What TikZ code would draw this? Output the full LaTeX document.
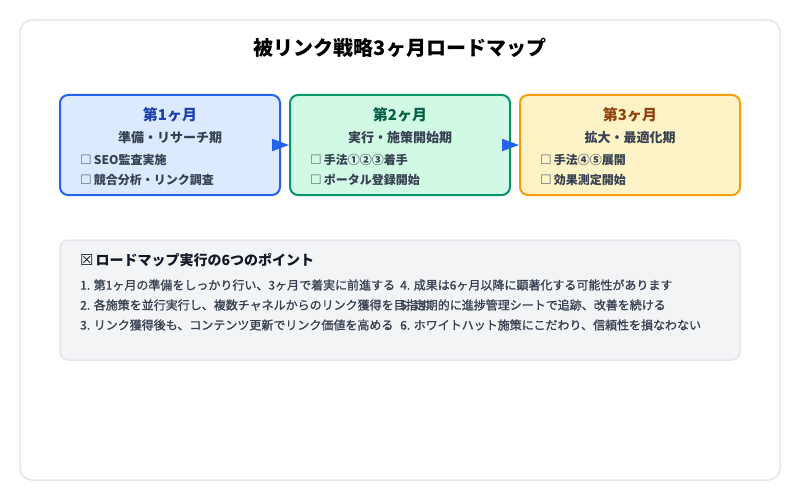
\documentclass[tikz,border=0pt]{standalone}
\usepackage{fontspec}
\setmainfont{Noto Sans CJK JP}
\newfontfamily\symfont{DejaVu Sans}
\newfontfamily\medfont[FakeBold=1.2]{Noto Sans CJK JP}
\usetikzlibrary{arrows.meta}
\definecolor{cardline}{HTML}{E5E7EB}
\definecolor{blueline}{HTML}{2563EB}
\definecolor{bluefill}{HTML}{DBEAFE}
\definecolor{bluetext}{HTML}{1E40AF}
\definecolor{greenline}{HTML}{059669}
\definecolor{greenfill}{HTML}{D1FAE5}
\definecolor{greentext}{HTML}{065F46}
\definecolor{amberline}{HTML}{F59E0B}
\definecolor{amberfill}{HTML}{FEF3C7}
\definecolor{ambertext}{HTML}{92400E}
\definecolor{bodytext}{HTML}{374151}
\definecolor{headtext}{HTML}{111827}
\definecolor{panelfill}{HTML}{F3F4F6}
\definecolor{boxmark}{HTML}{6B7280}
\tikzset{
  phase/.style={draw, line width=2pt, rounded corners=8pt, minimum width=220pt, minimum height=100pt, inner sep=0pt},
  phasetitle/.style={font=\fontsize{15}{18}\selectfont\bfseries, inner sep=0pt, anchor=center},
  phasesub/.style={font=\fontsize{13}{16}\selectfont\bfseries, text=bodytext, inner sep=0pt, anchor=center},
  item/.style={font=\fontsize{12}{14}\selectfont\bfseries, text=bodytext, inner sep=0pt, anchor=west},
  point/.style={font=\medfont\fontsize{12}{14}\selectfont, text=bodytext, inner sep=0pt, anchor=west},
  arr/.style={-{Triangle[length=17pt,width=12pt]}, blueline, line width=2pt},
}
\newcommand{\cb}{{\symfont\mdseries\fontsize{13}{14}\selectfont\color{boxmark}☐}\hspace{2pt}}
\begin{document}
\begin{tikzpicture}[x=1pt,y=-1pt]
\useasboundingbox (0,0) rectangle (800,500);
\fill[white] (0,0) rectangle (800,500);
\node[draw=cardline, fill=white, line width=1.5pt, rounded corners=12pt, minimum width=760pt, minimum height=460pt, inner sep=0pt] (card) at (400,250) {};
\node[font=\fontsize{20}{24}\selectfont\bfseries, text=black, inner sep=0pt] (title) at (400,48) {被リンク戦略3ヶ月ロードマップ};

\node[phase, draw=blueline, fill=bluefill] (b1) at (170,145) {};
\node[phase, draw=greenline, fill=greenfill] (b2) at (400,145) {};
\node[phase, draw=amberline, fill=amberfill] (b3) at (630,145) {};

\node[phasetitle, text=bluetext] (t1) at (170,115) {第1ヶ月};
\node[phasesub] (s1) at (170,138) {準備・リサーチ期};
\node[item] (i11) at (80,160) {\cb SEO監査実施};
\node[item] (i12) at (80,180) {\cb 競合分析・リンク調査};

\node[phasetitle, text=greentext] (t2) at (400,115) {第2ヶ月};
\node[phasesub] (s2) at (400,138) {実行・施策開始期};
\node[item] (i21) at (310,160) {\cb 手法①②③着手};
\node[item] (i22) at (310,180) {\cb ポータル登録開始};

\node[phasetitle, text=ambertext] (t3) at (630,115) {第3ヶ月};
\node[phasesub] (s3) at (630,138) {拡大・最適化期};
\node[item] (i31) at (540,160) {\cb 手法④⑤展開};
\node[item] (i32) at (540,180) {\cb 効果測定開始};

\draw[arr] ([xshift=-8pt]b1.east) -- (b2.west);
\draw[arr] ([xshift=-8pt]b2.east) -- (b3.west);

\node[draw=cardline, fill=panelfill, line width=1.5pt, rounded corners=8pt, minimum width=680pt, minimum height=120pt, inner sep=0pt] (panel) at (400,300) {};
\node[font=\fontsize{14}{17}\selectfont\bfseries, text=headtext, inner sep=0pt, anchor=west] (ph) at (80,260) {{\symfont\mdseries\fontsize{15}{17}\selectfont ☒}\hspace{2pt}ロードマップ実行の6つのポイント};
\node[point] (p1) at (80,285) {1. 第1ヶ月の準備をしっかり行い、3ヶ月で着実に前進する};
\node[point] (p2) at (80,305) {2. 各施策を並行実行し、複数チャネルからのリンク獲得を目指す};
\node[point] (p3) at (80,325) {3. リンク獲得後も、コンテンツ更新でリンク価値を高める};
\node[point] (p4) at (400,285) {4. 成果は6ヶ月以降に顕著化する可能性があります};
\node[point] (p5) at (400,305) {5. 定期的に進捗管理シートで追跡、改善を続ける};
\node[point] (p6) at (400,325) {6. ホワイトハット施策にこだわり、信頼性を損なわない};
\end{tikzpicture}
\end{document}
